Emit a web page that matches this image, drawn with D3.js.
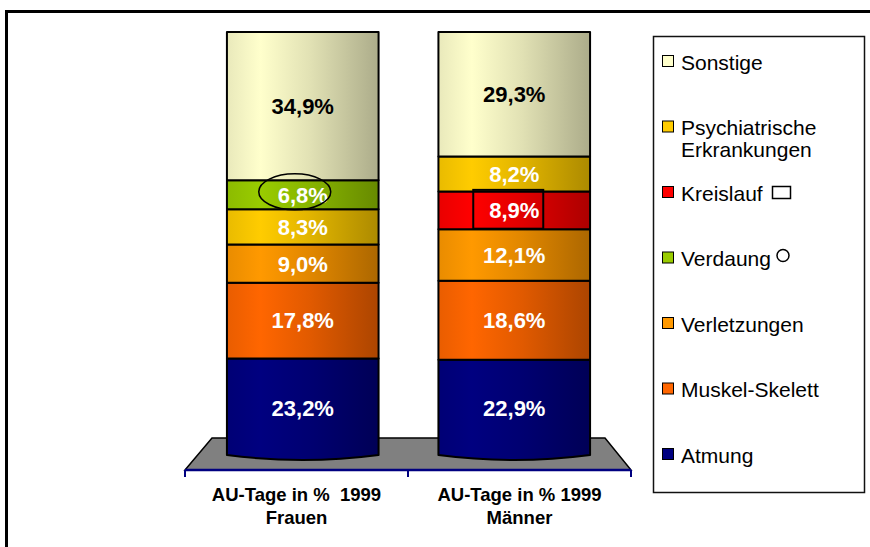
<!DOCTYPE html>
<html>
<head>
<meta charset="utf-8">
<script src="https://cdn.jsdelivr.net/npm/d3@7"></script>
<style>
  body { margin: 0; background: #fff; }
  svg { display: block; font-family: 'Liberation Sans', Arial, sans-serif; }
</style>
</head>
<body>
<div id="chart"></div>
<script>
// data
const bars = ['Frauen', 'Männer']
const barTitles = ['AU-Tage in %\u00a0 1999', 'AU-Tage in % 1999']
const frauenCats = ['Atmung', 'Muskel-Skelett', 'Verletzungen', 'Psychiatrische Erkrankungen', 'Verdaung', 'Sonstige']
const frauenValues = [23.2, 17.8, 9.0, 8.3, 6.8, 34.9]
const maennerCats = ['Atmung', 'Muskel-Skelett', 'Verletzungen', 'Kreislauf', 'Psychiatrische Erkrankungen', 'Sonstige']
const maennerValues = [22.9, 18.6, 12.1, 8.9, 8.2, 29.3]
const legendCats = ['Sonstige', 'Psychiatrische Erkrankungen', 'Kreislauf', 'Verdaung', 'Verletzungen', 'Muskel-Skelett', 'Atmung']
const legendLines = [['Sonstige'], ['Psychiatrische', 'Erkrankungen'], ['Kreislauf'], ['Verdaung'], ['Verletzungen'], ['Muskel-Skelett'], ['Atmung']]

const width = 870
const height = 547

const colors = {
  'Sonstige': '#ffffcc',
  'Psychiatrische Erkrankungen': '#ffcc00',
  'Kreislauf': '#ff0000',
  'Verdaung': '#99cc00',
  'Verletzungen': '#ff9900',
  'Muskel-Skelett': '#ff6600',
  'Atmung': '#000080'
}

const svg = d3.select('#chart').append('svg')
  .attr('width', width)
  .attr('height', height)

// cylinder shading
const defs = svg.append('defs')
legendCats.forEach((c, i) => {
  const base = d3.color(colors[c])
  const grad = defs.append('linearGradient')
    .attr('id', `g${i}`)
    .attr('x1', '0%').attr('x2', '100%')
    .attr('y1', '0%').attr('y2', '0%')
  grad.append('stop').attr('offset', '0%').attr('stop-color', base.darker(0.25))
  grad.append('stop').attr('offset', '22%').attr('stop-color', base)
  grad.append('stop').attr('offset', '55%').attr('stop-color', base.darker(0.35))
  grad.append('stop').attr('offset', '100%').attr('stop-color', base.darker(1.1))
})
const fillOf = c => `url(#g${legendCats.indexOf(c)})`

// outer frame (only top and left edges are in view)
svg.append('rect')
  .attr('x', 6.5).attr('y', 11.5)
  .attr('width', 1000).attr('height', 800)
  .attr('fill', 'none')
  .attr('stroke', '#000')
  .attr('stroke-width', 3)

const x = d3.scaleBand().domain(bars).range([197, 620])
  .paddingInner(0.283).paddingOuter(0.1415)
const xFront = d3.scaleBand().domain(bars).range([185, 631])
const y = d3.scaleLinear().domain([0, 100]).range([457, 32])

// floor
const floorTop = 438
const floorBottom = 470
svg.append('path')
  .attr('d', `M${xFront.range()[0]},${floorBottom} L212,${floorTop} L605,${floorTop} L${xFront.range()[1]},${floorBottom} Z`)
  .attr('fill', '#808080')
  .attr('stroke', '#000')
  .attr('stroke-width', 1.5)

// front axis with ticks at band edges
const ax = svg.append('g')
ax.append('line')
  .attr('x1', xFront.range()[0]).attr('x2', xFront.range()[1])
  .attr('y1', floorBottom).attr('y2', floorBottom)
  .attr('stroke', '#000080').attr('stroke-width', 2.5)
const edges = bars.map(b => xFront(b)).concat([xFront.range()[1]])
ax.selectAll('.tick').data(edges).join('line')
  .attr('x1', d => d).attr('x2', d => d)
  .attr('y1', floorBottom).attr('y2', floorBottom + 7)
  .attr('stroke', '#000080').attr('stroke-width', 2)

// stacked cylinders
const stacks = [
  { bar: 'Frauen', cats: frauenCats, values: frauenValues },
  { bar: 'Männer', cats: maennerCats, values: maennerValues }
]

stacks.forEach(s => {
  const ends = d3.cumsum(s.values)
  const segs = s.cats.map((c, i) => ({ cat: c, value: s.values[i], y0: ends[i] - s.values[i], y1: ends[i] }))
  const x0 = x(s.bar)
  const x1 = x0 + x.bandwidth()
  const xc = x0 + x.bandwidth() / 2
  const g = svg.append('g')

  g.selectAll('path').data(segs).join('path')
    .attr('d', (d, i) => {
      const top = y(d.y1)
      const bot = y(d.y0)
      if (i === 0) return `M${x0},${top} L${x1},${top} L${x1},${bot - 2} Q${xc},${bot + 8} ${x0},${bot - 2} Z`
      return `M${x0},${top} L${x1},${top} L${x1},${bot} L${x0},${bot} Z`
    })
    .attr('fill', d => fillOf(d.cat))
    .attr('stroke', '#000')
    .attr('stroke-width', 2)
    .attr('stroke-linejoin', 'round')

  g.selectAll('text').data(segs).join('text')
    .attr('x', xc)
    .attr('y', d => (y(d.y0) + y(d.y1)) / 2)
    .attr('dy', '0.36em')
    .attr('text-anchor', 'middle')
    .attr('font-size', 22)
    .attr('font-weight', 'bold')
    .attr('fill', d => d.cat === 'Sonstige' ? '#000' : '#fff')
    .text(d => d3.format('.1f')(d.value).replace('.', ',') + '%')

  // hand-drawn markers
  const verd = segs.find(d => d.cat === 'Verdaung')
  if (verd) {
    g.append('ellipse')
      .attr('cx', xc - 8)
      .attr('cy', (y(verd.y0) + y(verd.y1)) / 2 - 3)
      .attr('rx', 36).attr('ry', 18)
      .attr('fill', 'none').attr('stroke', '#000').attr('stroke-width', 1.5)
  }
  const kreis = segs.find(d => d.cat === 'Kreislauf')
  if (kreis) {
    g.append('rect')
      .attr('x', xc - 41).attr('y', y(kreis.y1) - 1.5)
      .attr('width', 70).attr('height', y(kreis.y0) - y(kreis.y1) + 1)
      .attr('fill', 'none').attr('stroke', '#000').attr('stroke-width', 2)
  }
})

// category labels
const cl = svg.append('g')
  .attr('font-size', 18.5)
  .attr('font-weight', 'bold')
  .attr('fill', '#000')
  .attr('text-anchor', 'middle')
bars.forEach((b, i) => {
  const cx = xFront(b) + xFront.bandwidth() / 2
  cl.append('text').attr('x', cx).attr('y', 501).text(barTitles[i])
  cl.append('text').attr('x', cx).attr('y', 524).text(b)
})

// legend
const lg = svg.append('g')
lg.append('rect')
  .attr('x', 653.5).attr('y', 36.5)
  .attr('width', 211).attr('height', 456)
  .attr('fill', '#fff')
  .attr('stroke', '#111')
  .attr('stroke-width', 1.5)

const legendY = d3.scalePoint().domain(legendCats).range([62, 455])
legendCats.forEach((c, i) => {
  const cy = legendY(c)
  lg.append('rect')
    .attr('x', 662.5).attr('y', cy - 6.5)
    .attr('width', 11).attr('height', 11)
    .attr('fill', colors[c])
    .attr('stroke', '#000').attr('stroke-width', 1)
  const t = lg.append('text')
    .attr('x', 681)
    .attr('y', cy)
    .attr('font-size', 21)
    .attr('fill', '#000')
  legendLines[i].forEach((line, j) => {
    t.append('tspan').attr('x', 681).attr('dy', j === 0 ? '0.36em' : '1.05em').text(line)
  })
  if (c === 'Kreislauf') {
    lg.append('rect')
      .attr('x', 772.5).attr('y', cy - 6.5)
      .attr('width', 18).attr('height', 12)
      .attr('fill', 'none').attr('stroke', '#000').attr('stroke-width', 1.5)
  }
  if (c === 'Verdaung') {
    lg.append('circle')
      .attr('cx', 783).attr('cy', cy - 3)
      .attr('r', 6)
      .attr('fill', 'none').attr('stroke', '#000').attr('stroke-width', 1.5)
  }
})
</script>
</body>
</html>
